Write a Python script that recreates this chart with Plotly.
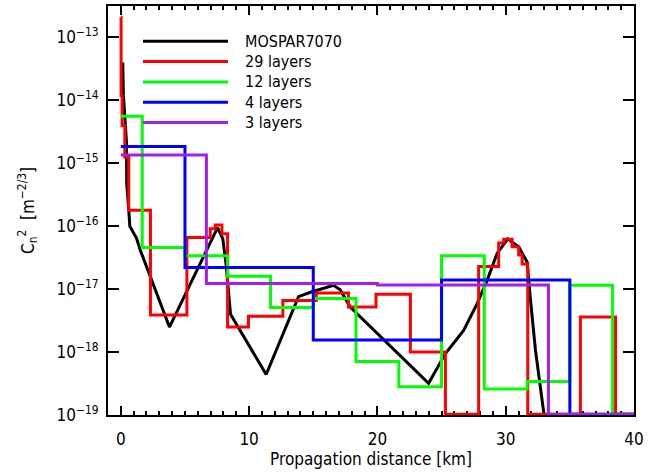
import plotly.graph_objects as go

# ---------------- data ----------------
# MOSPAR7070 reference profile: distance [km], Cn2 [m^-2/3]
mospar_x = [0.15, 0.20, 0.44, 0.46, 0.62, 0.70, 1.22, 1.51, 3.79, 7.54, 7.95, 8.20, 8.55,
            11.33, 13.85, 14.89, 16.58, 17.10, 17.88, 23.99, 25.30, 26.72, 27.77, 28.55,
            29.33, 30.16, 31.01, 31.67, 31.93, 32.32, 32.97, 33.20]
mospar_y = [4.0e-14, 1.2e-14, 2.2e-15, 4.8e-16, 1.8e-16, 1.0e-16, 6.5e-17, 4.2e-17, 2.5e-18,
            9.5e-17, 6.3e-17, 2.5e-17, 4.0e-18, 4.4e-19, 7.6e-18, 9.1e-18, 1.15e-17, 9.8e-18,
            5.2e-18, 3.2e-19, 9.5e-19, 2.2e-18, 5.9e-18, 1.38e-17, 3.7e-17, 6.3e-17, 4.7e-17,
            2.7e-17, 6.8e-18, 1.07e-18, 1.07e-19, 4.0e-20]

BELOW = 1.03e-19  # layer value below the plotted range (drawn along the axis)

# 29-layer model: layer edges [km] and layer values
red_edges = [0, 0.02, 0.10, 0.31, 0.62, 2.31, 5.15, 6.97, 7.36, 7.88, 8.32, 9.95, 12.63,
             15.23, 17.74, 19.89, 22.57, 25.30, 27.89, 29.45, 29.84, 30.50, 31.01, 31.28,
             31.72, 35.82, 38.56, 40]
red_values = [2.1e-13, 1.2e-14, 4.0e-15, 1.26e-15, 1.8e-16, 3.9e-18, 6.6e-17, 9.1e-17,
              1.05e-16, 7.6e-17, 2.5e-18, 3.7e-18, 6.6e-18, 8.7e-18, 5.2e-18, 8.3e-18,
              1.0e-18, BELOW, 2.3e-17, 5.4e-17, 6.2e-17, 4.7e-17, 3.5e-17, 2.5e-17,
              BELOW, 3.6e-18, BELOW]

# 12-layer model
green_edges = [0, 1.67, 5, 8.33, 11.67, 15, 18.33, 21.67, 25, 28.33, 31.67, 35, 38.33, 40]
green_values = [5.6e-15, 4.6e-17, 3.4e-17, 1.6e-17, 5.1e-18, 7.1e-18, 7.1e-19, 2.8e-19,
                3.4e-17, 2.6e-19, 3.4e-19, 1.15e-17, BELOW]

# 4-layer model
blue_edges = [0, 5, 15, 25, 35, 40]
blue_values = [1.85e-15, 2.2e-17, 1.55e-18, 1.4e-17, BELOW]

# 3-layer model
purple_edges = [0, 6.67, 20, 33.33, 40]
purple_values = [1.35e-15, 1.23e-17, 1.16e-17, BELOW]

series_names = ["MOSPAR7070", "29 layers", "12 layers", "4 layers", "3 layers"]
series_colors = ["#000000", "#ff0000", "#00ff00", "#0000ff", "#a020f0"]

x_ticks = [0, 10, 20, 30, 40]
y_tick_vals = [1e-19, 1e-18, 1e-17, 1e-16, 1e-15, 1e-14, 1e-13]
y_tick_text = ["10<sup>−19</sup>", "10<sup>−18</sup>", "10<sup>−17</sup>", "10<sup>−16</sup>",
               "10<sup>−15</sup>", "10<sup>−14</sup>", "10<sup>−13</sup>"]

FONT = "DejaVu Sans Condensed, DejaVu Sans, sans-serif"


def steps(edges, values):
    # step line: each value holds from its left edge to the next edge
    return list(edges), list(values) + [values[-1]]


fig = go.Figure()
fig.add_trace(go.Scatter(x=mospar_x, y=mospar_y, mode="lines",
                         line=dict(color=series_colors[0], width=3), showlegend=False))
for (e, v), c in zip([(red_edges, red_values), (green_edges, green_values),
                      (blue_edges, blue_values), (purple_edges, purple_values)],
                     series_colors[1:]):
    sx, sy = steps(e, v)
    fig.add_trace(go.Scatter(x=sx, y=sy, mode="lines", line_shape="hv",
                             line=dict(color=c, width=3), showlegend=False))

# legend drawn by hand (long sample lines as in the reference)
L, R, T, B = 108, 33, 6, 58
W, H = 667, 473
pw, ph = W - L - R, H - T - B
leg_x0, leg_x1, leg_tx = 143, 228, 243
leg_rows = [41.3, 61.6, 81.9, 102.2, 122.5]
for name, col, ry in zip(series_names, series_colors, leg_rows):
    yp = (H - B - ry) / ph
    fig.add_shape(type="line", xref="paper", yref="paper",
                  x0=(leg_x0 - L) / pw, x1=(leg_x1 - L) / pw, y0=yp, y1=yp,
                  line=dict(color=col, width=3))
    fig.add_annotation(xref="paper", yref="paper", x=(leg_tx - L) / pw, y=yp,
                       text=name, showarrow=False, xanchor="left", yanchor="middle",
                       font=dict(family=FONT, size=16, color="black"))

fig.update_layout(
    width=W, height=H,
    margin=dict(l=L, r=R, t=T, b=B),
    paper_bgcolor="white", plot_bgcolor="white",
    font=dict(family=FONT, size=16, color="black"),
    xaxis=dict(range=[-1, 40], tickvals=x_ticks, ticks="inside", ticklen=9,
               tickwidth=1.5, tickcolor="black", showline=True, linewidth=2,
               linecolor="black", mirror="allticks", showgrid=False, zeroline=False,
               layer="below traces", automargin=False,
               minor=dict(dtick=1, ticks="inside", ticklen=4, tickwidth=1.5,
                          tickcolor="black", showgrid=False),
               tickfont=dict(family=FONT, size=17), ticklabelstandoff=8,
               title=dict(text="Propagation distance [km]", standoff=2,
                          font=dict(family=FONT, size=17))),
    yaxis=dict(type="log", range=[-19, -12.5], tickvals=y_tick_vals, ticktext=y_tick_text,
               ticks="inside", ticklen=11, tickwidth=1.5, tickcolor="black",
               showline=True, linewidth=2, linecolor="black", mirror="allticks",
               showgrid=False, zeroline=False, layer="below traces", automargin=False,
               tickfont=dict(family=FONT, size=17), ticklabelstandoff=4,
               title=dict(text="C<sub>n</sub><sup>2</sup>  [m<sup>−2/3</sup>]",
                          standoff=18, font=dict(family=FONT, size=17))),
)

fig.write_html("out.html", config={"displayModeBar": False},
               post_script="document.body.style.margin='0';")
